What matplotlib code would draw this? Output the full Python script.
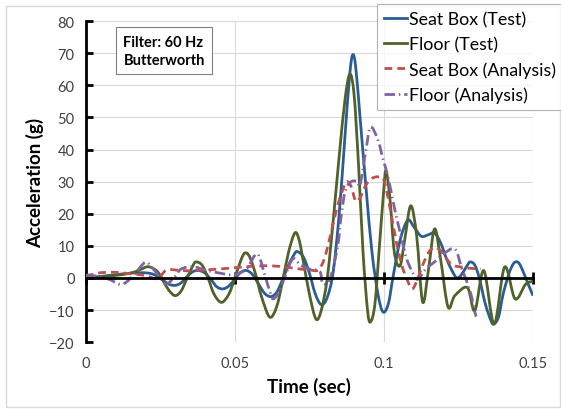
import matplotlib
matplotlib.use("Agg")
import numpy as np
import matplotlib.pyplot as plt
from matplotlib.patches import Rectangle, PathPatch
from matplotlib.path import Path
from matplotlib.lines import Line2D

plt.rcParams["font.family"] = ["Lato", "DejaVu Sans"]

# Seat Box (Test)
t_seat_test = [0, 0.005, 0.010, 0.015, 0.020, 0.023, 0.026, 0.028, 0.030, 0.032,
               0.034, 0.036, 0.038, 0.040, 0.042, 0.044, 0.046, 0.048, 0.050, 0.052,
               0.054, 0.056, 0.058, 0.060, 0.062, 0.064, 0.066, 0.068, 0.070, 0.071,
               0.073, 0.075, 0.077, 0.079, 0.081, 0.083, 0.085, 0.087, 0.0885, 0.0895,
               0.0905, 0.092, 0.094, 0.096, 0.098, 0.0997, 0.1015, 0.103, 0.1055, 0.108,
               0.110, 0.1125, 0.115, 0.117, 0.119, 0.121, 0.123, 0.1245, 0.126, 0.128,
               0.129, 0.1305, 0.132, 0.134, 0.136, 0.137, 0.1385, 0.140, 0.142, 0.1435,
               0.1448, 0.146, 0.148, 0.150]
g_seat_test = [0, 0.5, 1.0, 1.5, 1.6, 1.0, -0.8, -2.0, -2.3, -1.5,
               0.5, 2.0, 2.3, 1.5, -0.5, -2.8, -3.4, -2.5, -0.3, 1.8,
               2.3, 1.0, -2.0, -4.8, -5.8, -4.5, -0.5, 4.0, 7.5, 8.2,
               6.5, 1.5, -5.0, -8.3, -6.0, 2.0, 20, 45, 63, 69.5,
               66, 50, 28, 8, -5, -10.6, -8, 0, 12, 18,
               16, 13, 13.5, 14, 11, 6, 2, 0, 1, 4,
               5, 4, 0, -8, -13.5, -14.3, -12, -5, 1.5, 4.5,
               5, 3.5, -1, -5.5]

# Floor (Test)
t_floor_test = [0, 0.005, 0.010, 0.015, 0.018, 0.021, 0.024, 0.026, 0.028, 0.030,
                0.032, 0.034, 0.036, 0.037, 0.039, 0.041, 0.043, 0.0455, 0.048, 0.050,
                0.052, 0.0534, 0.055, 0.057, 0.059, 0.0617, 0.064, 0.066, 0.068, 0.0701,
                0.0715, 0.073, 0.075, 0.0772, 0.079, 0.081, 0.083, 0.085, 0.087, 0.0886,
                0.090, 0.0915, 0.093, 0.0945, 0.0955, 0.097, 0.0985, 0.100, 0.1007, 0.102,
                0.1035, 0.1054, 0.107, 0.109, 0.111, 0.113, 0.115, 0.117, 0.119, 0.1215,
                0.1238, 0.128, 0.1305, 0.1335, 0.137, 0.1405, 0.144, 0.1475, 0.150]
g_floor_test = [0, 0.3, 0.8, 1.5, 2.5, 3.5, 2.0, -1.0, -4.0, -5.5,
                -4.0, 0, 4.0, 5.0, 4.0, 0, -5.0, -7.6, -5.0, 0,
                5.5, 7.8, 6.5, 1.0, -6.0, -12.2, -9.0, -1.0, 8.0, 14,
                12, 5, -5, -12.8, -10, 0, 18, 38, 56, 63.5,
                57, 35, 8, -10, -13.7, -8, 10, 28, 33.3, 25,
                8, 3.8, 12, 22.5, 13, -7.5, 3, 15.3, 6, -9,
                -5.5, -3, -10.2, 2.3, -14.3, 3.4, -6.5, -2, -1]

# Seat Box (Analysis)
t_seat_an = [0, 0.004, 0.008, 0.012, 0.016, 0.020, 0.024, 0.027, 0.030, 0.035,
             0.040, 0.045, 0.050, 0.055, 0.060, 0.065, 0.070, 0.075, 0.078, 0.080,
             0.082, 0.084, 0.086, 0.0875, 0.089, 0.0905, 0.092, 0.094, 0.096, 0.098,
             0.100, 0.102, 0.104, 0.106, 0.108, 0.1095, 0.111, 0.113, 0.115, 0.117,
             0.119, 0.121, 0.123, 0.126, 0.129, 0.1325]
g_seat_an = [0.5, 1.5, 1.8, 1.6, 1.2, 0.8, -0.2, 2.5, 2.5, 2.2,
             2.5, 2.8, 3.2, 3.6, 3.8, 3.6, 3.0, 2.5, 2.5, 6,
             13, 21, 27, 30, 28.5, 24, 25, 29, 31, 31.5,
             30.5, 22, 12, 4, -1, -3.4, -1, 4, 8, 9.5,
             8.5, 6, 4, 3.4, 3.0, 2.8]

# Floor (Analysis)
t_floor_an = [0, 0.004, 0.008, 0.0115, 0.014, 0.017, 0.020, 0.022, 0.025, 0.027,
              0.030, 0.032, 0.036, 0.040, 0.045, 0.050, 0.054, 0.0575, 0.060, 0.062,
              0.063, 0.065, 0.067, 0.0695, 0.072, 0.075, 0.0785, 0.0795, 0.082, 0.0845,
              0.0855, 0.087, 0.089, 0.091, 0.092, 0.094, 0.0955, 0.098, 0.0997, 0.1015,
              0.1036, 0.106, 0.1076, 0.110, 0.1115, 0.114, 0.117, 0.120, 0.1238, 0.1262,
              0.129, 0.1305, 0.131]
g_floor_an = [1, 0.5, -0.5, -2, -1, 2, 4.9, 3.5, 0, -1.9,
              0.5, 2.8, 3.5, 2.5, 1.5, 1, 3, 7.5, 1, -5,
              -6.5, -4, 1, 6, 4, 2.8, 2, -1.9, 0, 10,
              18, 27, 30, 30, 29, 40, 47, 43, 37, 31,
              21.5, 12, 6, 1, -0.4, 2.8, 5, 7.5, 9, 2.8,
              -4.4, -10.6, -12]

x_ticks = [0, 0.05, 0.1, 0.15]
x_tick_labels = ["0", "0.05", "0.1", "0.15"]
y_ticks = list(range(-20, 81, 10))


def smooth_path(t, g):
    # Excel-style smoothed line: cubic Bezier segments through the points
    pts = np.column_stack([t, g]).astype(float)
    n = len(pts)
    verts = [pts[0]]
    codes = [Path.MOVETO]
    for i in range(n - 1):
        p0 = pts[i - 1] if i > 0 else pts[i]
        p1 = pts[i]
        p2 = pts[i + 1]
        p3 = pts[i + 2] if i + 2 < n else pts[i + 1]
        verts += [p1 + (p2 - p0) / 6, p2 - (p3 - p1) / 6, p2]
        codes += [Path.CURVE4] * 3
    return Path(verts, codes)


fig = plt.figure(figsize=(5.61, 4.10), dpi=100)
ax = fig.add_axes([0.153, 0.163, 0.797, 0.783])

fig.patches.append(Rectangle((6 / 561, 2 / 410), 554 / 561, 401 / 410,
                             transform=fig.transFigure, fill=False,
                             edgecolor="#D9D9D9", linewidth=1))

series = [
    (t_seat_test, g_seat_test, "#2A5D95", 2.0, "-", "Seat Box (Test)"),
    (t_floor_test, g_floor_test, "#4F6228", 2.0, "-", "Floor (Test)"),
    (t_seat_an, g_seat_an, "#C0504D", 2.0, (0, (2.8, 1.8)), "Seat Box (Analysis)"),
    (t_floor_an, g_floor_an, "#8064A2", 2.0, (0, (3.8, 1.4, 0.5, 1.4)), "Floor (Analysis)"),
]
handles = []
for t, g, c, lw, ls, lab in series:
    patch = PathPatch(smooth_path(t, g), facecolor="none", edgecolor=c, lw=lw,
                      linestyle=ls, joinstyle="round", capstyle="butt",
                      transform=ax.transData, zorder=3)
    ax.add_patch(patch)
    handles.append(Line2D([], [], color=c, lw=lw, linestyle=ls, label=lab))

ax.set_xlim(0, 0.15)
ax.set_ylim(-20, 80)
ax.set_xticks(x_ticks)
ax.set_xticklabels(x_tick_labels)
ax.set_yticks(y_ticks)
ax.grid(True, color="#D9D9D9", lw=0.8)
ax.set_axisbelow(True)

for s in ["right", "bottom"]:
    ax.spines[s].set_visible(False)
ax.spines["left"].set_linewidth(2)
ax.spines["top"].set_position(("data", 0))
ax.spines["top"].set_linewidth(2)
ax.spines["top"].set_zorder(5)
ax.tick_params(axis="y", direction="in", length=5, width=2, labelsize=10.5,
               colors="black", labelcolor="#404040", pad=8)
ax.tick_params(axis="x", bottom=False, top=True, labelbottom=True, labeltop=False,
               labelsize=10.5, labelcolor="#404040", pad=6,
               direction="inout", length=8, width=2)

ax.set_xlabel("Time (sec)", fontsize=13.5, fontweight="bold", labelpad=5)
ax.set_ylabel("Acceleration (g)", fontsize=13.5, fontweight="bold", labelpad=4)

ax.text(0.084, 0.958, "Filter: 60 Hz\nButterworth", transform=ax.transAxes,
        fontsize=10.5, fontweight="bold", va="top", ha="left", linespacing=1.4,
        bbox=dict(boxstyle="square,pad=0.5", fc="white", ec="#808080", lw=0.8),
        zorder=6)

leg = fig.legend(handles=handles, loc="upper right", bbox_to_anchor=(1.004, 0.988),
                 fontsize=12.8, handlelength=1.3, handletextpad=0.1, borderpad=0.4,
                 labelspacing=0.5, frameon=True, fancybox=False, borderaxespad=0)
leg.get_frame().set_edgecolor("#A0A0A0")
leg.get_frame().set_linewidth(0.8)

fig.savefig("out.png", dpi=100)
